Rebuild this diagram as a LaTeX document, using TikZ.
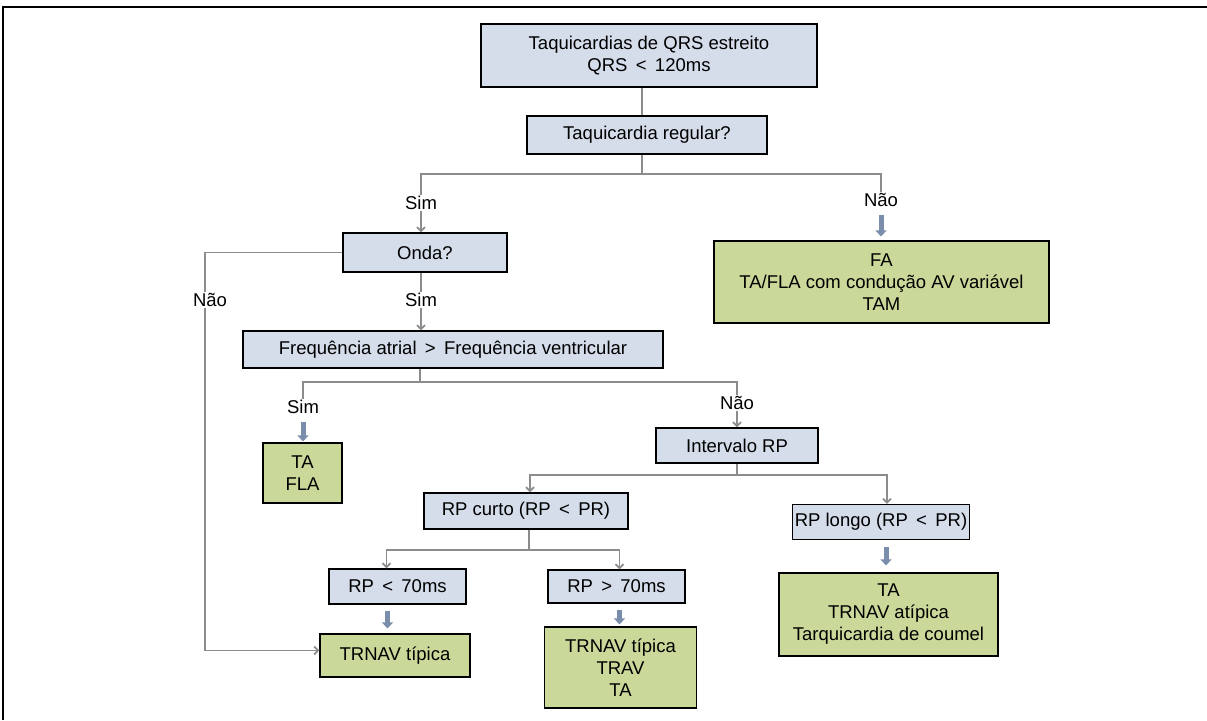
\documentclass[tikz,border=0pt]{standalone}
\usepackage{fontspec}
\setmainfont{Liberation Sans}
\usetikzlibrary{arrows.meta,calc}
\definecolor{boxblue}{HTML}{D5DCEA}
\definecolor{boxgreen}{HTML}{CAD99A}
\definecolor{linegray}{HTML}{8C8C8C}
\definecolor{arrowblue}{HTML}{7A8DAA}
\newcommand{\mylt}{\hspace{0.45em}<\hspace{0.45em}}
\newcommand{\mygt}{\hspace{0.45em}>\hspace{0.45em}}
\begin{document}
\begin{tikzpicture}[x=1pt,y=-1pt,
  font=\fontsize{18.5}{22}\selectfont,
  qbox/.style={draw=black, line width=1.2pt, fill=boxblue, inner sep=0pt, align=center},
  rbox/.style={qbox, fill=boxgreen},
  lbl/.style={inner sep=1pt},
  conn/.style={draw=linegray, line width=1.8pt},
  carrow/.style={conn, -{Straight Barb[length=4pt,width=8pt]}},
  barrow/.style={draw=arrowblue, line width=5pt, -{Triangle[width=11pt,length=6pt]}}
]
\path[use as bounding box] (0,0) rectangle (1207,720);
\draw[line width=2pt] (3,720) -- (3,7) -- (1207,7);

% nodes
\node[qbox, minimum width=336pt, minimum height=63pt] (top) at (649,55.5) {Taquicardias de QRS estreito\\QRS\mylt120ms};
\node[qbox, minimum width=240pt, minimum height=38pt] (reg) at (647,135) {Taquicardia regular?};
\node[qbox, minimum width=164pt, minimum height=39pt] (onda) at (425,252.5) {Onda?};
\node[qbox, minimum width=420pt, minimum height=37pt] (freq) at (453,349.5) {Frequência atrial\mygt Frequência ventricular};
\node[rbox, minimum width=79pt, minimum height=60pt] (tafla) at (302.5,473) {TA\\FLA};
\node[rbox, minimum width=335pt, minimum height=82pt] (fa) at (881.5,282) {FA\\TA/FLA com condução AV variável\\TAM};
\node[qbox, minimum width=162pt, minimum height=35pt] (interv) at (737,445.5) {Intervalo RP};
\node[qbox, minimum width=204pt, minimum height=36pt] (curto) at (526,511) {RP curto (RP\mylt PR)};
\node[qbox, minimum width=177pt, minimum height=35pt] (longo) at (881,522) {RP longo (RP\mylt PR)};
\node[qbox, minimum width=137pt, minimum height=35pt] (rpa) at (397.5,586.5) {RP\mylt 70ms};
\node[qbox, minimum width=137pt, minimum height=33pt] (rpb) at (616.5,586.5) {RP\mygt 70ms};
\node[rbox, minimum width=150pt, minimum height=43pt] (trnav) at (395,655.5) {TRNAV típica};
\node[rbox, minimum width=152pt, minimum height=81pt] (trav) at (620.5,667.5) {TRNAV típica\\TRAV\\TA};
\node[rbox, minimum width=219pt, minimum height=83pt] (atip) at (888.5,614.5) {TA\\TRNAV atípica\\Tarquicardia de coumel};

% labels
\node[lbl] (sim1) at (421,203) {Sim};
\node[lbl] (nao1) at (881,200) {Não};
\node[lbl] (nao2) at (210,300) {Não};
\node[lbl] (sim2) at (421,300) {Sim};
\node[lbl] (sim3) at (303,407) {Sim};
\node[lbl] (nao3) at (737,403) {Não};

% junctions
\coordinate (j1) at (642,174);
\coordinate (j3) at (420,382);
\coordinate (j4) at (737,475);
\coordinate (j5) at (529,550);

% connectors
\draw[conn] (top.south -| j1) -- (reg.north -| j1);
\draw[conn] (reg.south -| j1) -- (j1);
\draw[conn] (sim1.north) |- (j1);
\draw[conn] (nao1.north) |- (j1);
\draw[carrow] (sim1.south) -- (sim1.south |- onda.north);
\draw[barrow, shorten <=7pt, shorten >=4pt] (nao1.south) -- (nao1.south |- fa.north);

\draw[conn] (onda.west) -| ([xshift=-5pt]nao2.north);
\draw[carrow] ([xshift=-5pt]nao2.south) |- ([yshift=5pt]trnav.west);
\draw[conn] (onda.south -| sim2) -- (sim2.north);
\draw[carrow] (sim2.south) -- (sim2.south |- freq.north);

\draw[conn] (freq.south -| j3) -- (j3);
\draw[conn] (sim3.north) |- (j3);
\draw[conn] (nao3.north) |- (j3);
\draw[barrow, shorten <=7pt, shorten >=1pt] (sim3.south) -- (sim3.south |- tafla.north);
\draw[carrow] (nao3.south) -- (nao3.south |- interv.north);

\draw[conn] (interv.south) -- (j4);
\draw[carrow] (j4) -| ([xshift=4pt]curto.north);
\draw[carrow] (j4) -| ([xshift=6pt]longo.north);

\draw[conn] ([xshift=3pt]curto.south) -- (j5);
\draw[carrow] (j5) -| ([xshift=-11pt]rpa.north);
\draw[carrow] (j5) -| ([xshift=3pt]rpb.north);

\draw[barrow, shorten <=6pt, shorten >=5pt] ([xshift=-10pt]rpa.south) -- ([xshift=-10pt]rpa.south |- trnav.north);
\draw[barrow, shorten <=6pt, shorten >=2pt] ([xshift=3pt]rpb.south) -- ([xshift=3pt]rpb.south |- trav.north);
\draw[barrow, shorten <=7pt, shorten >=7pt] ([xshift=5pt]longo.south) -- ([xshift=5pt]longo.south |- atip.north);
\end{tikzpicture}
\end{document}
